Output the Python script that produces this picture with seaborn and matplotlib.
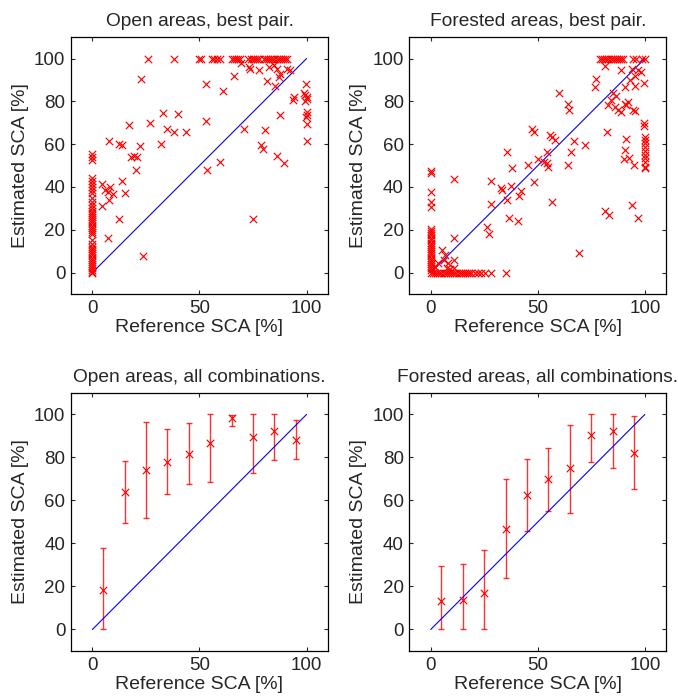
import matplotlib
matplotlib.use("Agg")
import matplotlib.pyplot as plt
import numpy as np
import pandas as pd
import seaborn as sns

# ---------------- data ----------------
diag = [0, 100]

# Panel 1: open areas, best pair
open_x = (
    [26, 38, 50, 50.5, 56, 57, 58, 59.5, 65, 66, 67, 68, 69, 72.5, 74, 75, 76, 77, 78,
     80, 81, 82, 83, 84, 85, 86, 87, 88, 89, 90, 91]
    + [69.4, 73, 73.8, 78, 82.7, 84.7, 86.3, 87.8, 87, 91, 92.5, 66, 81.6, 85.5, 52.9, 61,
       22.6, 94, 93.6, 99.8, 98.8, 99.5, 100, 100, 99.5, 100, 100, 99.8, 100, 100]
    + [32.8, 39.8, 26.7, 17, 34.8, 37.9, 43.8, 52.9, 71, 80.5, 87.5, 7.8, 12.2, 13.7, 22.3,
       32.1, 18, 19.5, 20.7, 20.3, 78.9, 79.7, 86.3, 89.4, 53.5, 59.8, 14, 4.7, 6, 7.5, 8,
       9.8, 15, 7.8, 4.4, 12.2, 75, 7.5, 23.6]
    + [0] * 41
)
open_y = (
    [100] * 31
    + [97.7, 96, 95.3, 94.6, 96, 96.9, 95.3, 93, 91.4, 95.3, 94.6, 91.8, 89.4, 87, 87.9, 84.8,
       90.4, 82, 80.6, 88.3, 84, 83, 82, 81, 80, 75, 73.5, 72.5, 69.2, 61.4]
    + [74.6, 74.3, 70.1, 68.9, 67, 65.8, 65.5, 70.9, 66.9, 66.6, 73.6, 61.4, 60.3, 59.6, 59.1,
       59.9, 54.2, 54.3, 54, 47.9, 59.6, 57.7, 54.7, 51, 47.9, 51.5, 42.9, 41.4, 38.6, 37.8,
       40.1, 36.5, 37.3, 33.9, 31.3, 24.9, 24.9, 16, 7.8]
    + [55.5, 54, 52.5, 44, 43, 41.5, 40, 38.5, 37, 35, 33, 31.5, 30, 29, 28, 27, 26, 25, 24,
       23, 22, 21, 20, 19, 18, 15, 13.5, 12, 11, 10, 9, 8, 7, 6, 5, 4, 3, 2, 1, 0.5, 0]
)

# Panel 2: forested areas, best pair
forest_x = (
    [79, 80, 81, 82, 83, 84, 85, 86, 87, 88, 89, 90, 94.5, 96, 98.5, 100]
    + [81.6, 77.3, 76.7, 89, 93.8, 96.6, 98.4, 95.3, 93, 95.6, 99.7, 90.7, 85.2, 86.5, 84.4,
       82.8, 86, 87.6, 90.7, 92.2, 91.4, 94.6, 95.4, 89, 60, 64.2, 64.5, 82.4, 91.1, 90.7,
       90.4, 92.7, 95, 99.7, 99.7, 100, 100, 100, 100, 100, 100, 100, 100, 100, 100]
    + [47.1, 48.4, 55.7, 56.5, 58, 67, 72, 65.5, 54.1, 53, 54.1, 54.9, 49.9, 45.3, 64.2, 35.5,
       37.8, 32.8, 33.4, 37.3, 42.1, 41.2, 35.6, 48.4, 56.8, 28.3, 28.3, 36.5, 40.9, 26.4,
       27.4, 69.4, 11, 10.7, 81.3, 83.4, 94.2, 96.6]
    + [5.1, 6.7, 6.4, 8.2, 11, 10.7, 2, 3.6, 7.5, 9]
    + [0] * 26
    + [1, 2, 3, 4, 5, 6, 7, 8, 9, 10, 11, 12, 13, 14, 15, 16, 17, 18, 19, 20.5, 22, 23.5,
       25.5, 28, 35]
)
forest_y = (
    [100] * 16
    + [96.4, 90.4, 86.5, 94.6, 95, 94.6, 93.8, 91.8, 89.9, 87.2, 88.6, 86.8, 83.7, 82.4, 80.6,
       78.2, 77.4, 75.9, 79, 79.8, 78.2, 75.9, 75.4, 75.1, 83.7, 79, 75.9, 65.9, 62.5, 57.4,
       53.3, 53.6, 50.2, 69.8, 68.3, 63.5, 62, 60.5, 58.5, 57, 55, 53.5, 51.5, 49.5, 48.7]
    + [67, 65.5, 64.2, 63.5, 61.9, 61.4, 59.6, 56.5, 56.5, 51.8, 51, 49.5, 53.3, 50.2, 50.2,
       56.5, 49, 39.3, 38.6, 40.4, 38.3, 35.9, 33.9, 42.5, 33.1, 42.8, 32, 25.7, 24.3, 21.5,
       17.9, 9, 43.5, 16, 28.8, 26.9, 31.6, 25.3]
    + [10.6, 8.2, 5.9, 4.4, 5.9, 2.3, 2.8, 4.4, 2, 1.6]
    + [47.5, 46.5, 37.8, 33.1, 30.8, 20.5, 19.5, 18.5, 17.5, 16, 15, 14, 13, 12, 11, 10, 9,
       8, 7, 6, 5, 4, 3, 2, 1, 0]
    + [0] * 25
)

# Panels 3-4: binned means with ranges
bin_centers = [5, 15, 25, 35, 45, 55, 65, 75, 85, 95]
open_mean = [18.3, 64.1, 74.1, 78.1, 81.6, 86.6, 98.4, 89.4, 92.5, 88.3]
open_low = [0, 49.5, 51.9, 63.1, 67.8, 68.8, 94.5, 73, 78.8, 79.2]
open_high = [37.8, 78.4, 96.4, 93.3, 95.9, 100, 99.8, 100, 100, 97.2]
forest_mean = [13.1, 13.6, 17, 46.9, 62.5, 69.8, 75.3, 90.6, 92.2, 82.3]
forest_low = [0, 0, 0, 23.8, 45.6, 55.3, 54.2, 78.1, 75.3, 65.2]
forest_high = [29.5, 30.5, 37, 69.8, 79.2, 84.2, 95.3, 100, 100, 99.5]

titles = ["Open areas, best pair.", "Forested areas, best pair.",
          "Open areas, all combinations.", "Forested areas, all combinations."]
x_ticks = [0, 50, 100]
y_ticks = [0, 20, 40, 60, 80, 100]

# ---------------- style ----------------
sns.set_style("ticks")
plt.rcParams["font.family"] = ["Liberation Sans", "DejaVu Sans"]

fig = plt.figure(figsize=(6.78, 6.96), dpi=100)
positions = [
    [0.1047, 0.5776, 0.379, 0.369],
    [0.6037, 0.5776, 0.379, 0.369],
    [0.1047, 0.0647, 0.379, 0.3707],
    [0.6037, 0.0647, 0.379, 0.3707],
]
axes = [fig.add_axes(p) for p in positions]

mk = dict(marker="x", color="red", s=28, linewidth=0.85, zorder=3, legend=False)

for ax, xs, ys in [(axes[0], open_x, open_y), (axes[1], forest_x, forest_y)]:
    df = pd.DataFrame({"ref": xs, "est": ys})
    sns.scatterplot(data=df, x="ref", y="est", ax=ax, **mk)

for ax, m, lo, hi in [(axes[2], open_mean, open_low, open_high),
                      (axes[3], forest_mean, forest_low, forest_high)]:
    m_ = np.array(m)
    yerr = [m_ - np.array(lo), np.array(hi) - m_]
    ax.errorbar(bin_centers, m, yerr=yerr, fmt="none", ecolor=(1, 0, 0, 0.8),
                elinewidth=1.0, capsize=2, capthick=1.0, zorder=2)
    df = pd.DataFrame({"ref": bin_centers, "est": m})
    sns.scatterplot(data=df, x="ref", y="est", ax=ax, **mk)

for i, ax in enumerate(axes):
    sns.lineplot(x=diag, y=diag, color="blue", linewidth=0.8, ax=ax, zorder=2)
    ax.set_xlim(-10, 110)
    ax.set_ylim(-10, 110)
    ax.set_xticks(x_ticks)
    ax.set_yticks(y_ticks)
    ax.tick_params(direction="in", top=True, right=True, length=3, width=0.8,
                   labelsize=13.5, pad=4)
    for s in ax.spines.values():
        s.set_visible(True)
        s.set_color("black")
        s.set_linewidth(0.9)
    ax.set_title(titles[i], fontsize=13.8, pad=8)
    ax.set_xlabel("Reference SCA [%]", fontsize=14, labelpad=2)
    ax.set_ylabel("Estimated SCA [%]", fontsize=14, labelpad=4)

fig.savefig("out.png", dpi=100)
